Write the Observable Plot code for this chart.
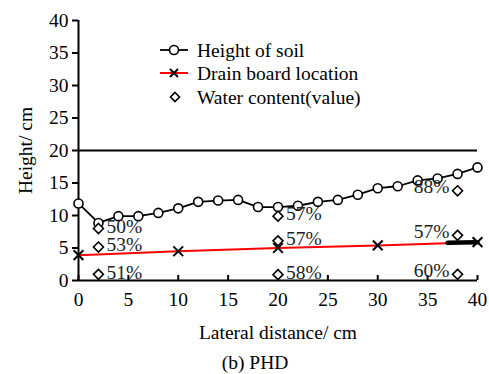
<!DOCTYPE html>
<html><head><meta charset="utf-8">
<script src="https://cdn.jsdelivr.net/npm/d3@7"></script>
<script src="https://cdn.jsdelivr.net/npm/@observablehq/plot@0.6"></script>
<style>
body{margin:0;background:#fff;}
#wrap{position:relative;width:489px;font-family:"Liberation Serif","Times New Roman",Times,serif;}
#caption{text-align:center;font-size:19.5px;line-height:22px;margin-top:7px;padding-left:21px;color:#000;}
#legend{position:absolute;left:0;top:0;pointer-events:none;}
#wrap svg text{font-family:"Liberation Serif","Times New Roman",Times,serif !important;}
</style></head><body><div id="wrap"></div>
<script>
// ---- data ----
const soilX = [0,2,4,6,8,10,12,14,16,18,20,22,24,26,28,30,32,34,36,38,40];
const soilH = [11.85,8.85,9.9,9.9,10.4,11.1,12.1,12.3,12.4,11.3,11.3,11.5,12.1,12.4,13.2,14.2,14.5,15.4,15.7,16.4,17.4];
const drainX = [0,10,20,30,40];
const drainY = [3.9,4.5,5.0,5.4,5.9];
const arrowX = [37,40];
const arrowY = [5.8,5.9];
const wcX = [2,2,2,20,20,20,38,38,38];
const wcY = [8.0,5.15,0.95,9.9,6.1,0.9,13.8,6.95,0.95];
const wcLabel = ["50%","53%","51%","57%","57%","58%","88%","57%","60%"];
const refLineY = [20];
const xTicks = [0,5,10,15,20,25,30,35,40];
const yTicks = [0,5,10,15,20,25,30,35,40];
const legendLabels = ["Height of soil","Drain board location","Water content(value)"];

const soil = soilX.map((x,i)=>({x, y: soilH[i]}));
const drain = drainX.map((x,i)=>({x, y: drainY[i]}));
const arrow = arrowX.map((x,i)=>({x, y: arrowY[i]}));
const wc = wcX.map((x,i)=>({x, y: wcY[i], label: wcLabel[i]}));
const wcRight = wc.filter(d => d.x < 30);
const wcLeft = wc.filter(d => d.x >= 30);

const font = "'Liberation Serif', 'Times New Roman', Times, serif";
const plot = Plot.plot({
  width: 489, height: 345,
  marginLeft: 78, marginRight: 12, marginTop: 20, marginBottom: 65,
  style: {fontFamily: font, fontSize: "19.5px", background: "#fff", color: "#000"},
  x: {domain: [0, 40]},
  y: {domain: [0, 40]},
  marks: [
    Plot.axisY({ticks: yTicks, tickSize: 6, tickPadding: 4, strokeWidth: 2,
      label: "Height/ cm", labelAnchor: "center", labelArrow: "none", labelOffset: 60}),
    Plot.axisX({ticks: xTicks, tickSize: -5, tickPadding: 17, strokeWidth: 2,
      label: "Lateral distance/ cm", labelAnchor: "center", labelArrow: "none", labelOffset: 58}),
    Plot.ruleY(refLineY, {stroke: "black", strokeWidth: 2}),
    Plot.ruleX([0], {stroke: "black", strokeWidth: 2}),
    Plot.ruleY([0], {stroke: "black", strokeWidth: 2}),
    Plot.line(drain, {x: "x", y: "y", stroke: "red", strokeWidth: 2}),
    Plot.line(arrow, {x: "x", y: "y", stroke: "black", strokeWidth: 4.5}),
    Plot.dot(drain, {x: "x", y: "y", symbol: "times", r: 4.5, stroke: "black", strokeWidth: 2}),
    Plot.line(soil, {x: "x", y: "y", stroke: "black", strokeWidth: 1.8}),
    Plot.dot(soil, {x: "x", y: "y", r: 4.5, fill: "white", stroke: "black", strokeWidth: 1.6}),
    Plot.dot(wc, {x: "x", y: "y", symbol: "diamond2", r: 4.5, fill: "white", stroke: "black", strokeWidth: 1.6}),
    Plot.text(wcRight, {x: "x", y: "y", text: "label", textAnchor: "start", dx: 8, dy: -2, fill: "#222", fontSize: 19.5}),
    Plot.text(wcLeft, {x: "x", y: "y", text: "label", textAnchor: "end", dx: -8, dy: -4, fill: "#222", fontSize: 19.5})
  ]
});

const wrap = document.getElementById("wrap");
wrap.appendChild(plot);

// legend overlay
const ns = "http://www.w3.org/2000/svg";
const leg = document.createElementNS(ns, "svg");
leg.setAttribute("id", "legend");
leg.setAttribute("width", 489);
leg.setAttribute("height", 120);
const rows = [50, 73, 97];
function el(tag, attrs, parent){ const e = document.createElementNS(ns, tag); for (const k in attrs) e.setAttribute(k, attrs[k]); (parent||leg).appendChild(e); return e; }
el("line", {x1:160, x2:188, y1:rows[0], y2:rows[0], stroke:"black", "stroke-width":1.8});
el("circle", {cx:174, cy:rows[0], r:4.5, fill:"white", stroke:"black", "stroke-width":1.6});
el("line", {x1:160, x2:188, y1:rows[1], y2:rows[1], stroke:"red", "stroke-width":2});
el("path", {d:`M170,${rows[1]-4}L178,${rows[1]+4}M178,${rows[1]-4}L170,${rows[1]+4}`, stroke:"black", "stroke-width":2});
el("path", {d:`M175,${rows[2]-4.5}L179.5,${rows[2]}L175,${rows[2]+4.5}L170.5,${rows[2]}Z`, fill:"white", stroke:"black", "stroke-width":1.6});
legendLabels.forEach((t,i)=>{
  const tx = el("text", {x:197, y:rows[i], "dominant-baseline":"central", "font-size":"19.5px", fill:"#000"});
  tx.textContent = t;
});
wrap.appendChild(leg);

const cap = document.createElement("div");
cap.id = "caption";
cap.textContent = "(b) PHD";
wrap.appendChild(cap);
</script>
</body></html>
